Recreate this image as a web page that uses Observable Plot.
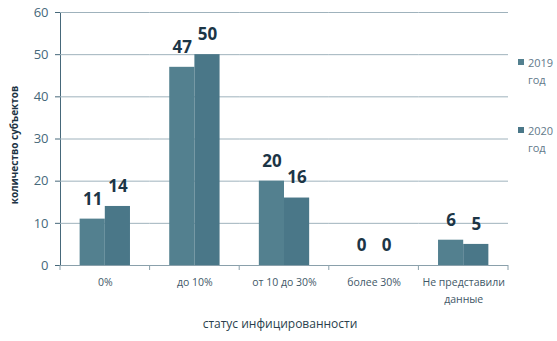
<!DOCTYPE html>
<html><head><meta charset="utf-8">
<script src="https://cdn.jsdelivr.net/npm/d3@7"></script>
<script src="https://cdn.jsdelivr.net/npm/@observablehq/plot@0.6"></script>
<style>
body{margin:0;background:#fff;}
#wrap{position:relative;width:557px;height:341px;overflow:hidden;font-family:"Open Sans",sans-serif;}
.ov{position:absolute;white-space:nowrap;}
</style>
</head><body>
<div id="wrap"></div>
<script>
const categories = ["0%", "до 10%", "от 10 до 30%", "более 30%", "Не представили\nданные"];
const series = ["2019 год", "2020 год"];
const values2019 = [11, 47, 20, 0, 6];
const values2020 = [14, 50, 16, 0, 5];
const yTicks = [0, 10, 20, 30, 40, 50, 60];
const colors = ["#53808f", "#4a7788"];
const yTitle = "количество субъектов";
const xTitle = "статус инфицированности";

const rows = [];
categories.forEach((c, i) => {
  rows.push({category: c, series: series[0], value: values2019[i]});
  rows.push({category: c, series: series[1], value: values2020[i]});
});

const plot = Plot.plot({
  width: 557,
  height: 341,
  marginLeft: 60,
  marginRight: 49,
  marginTop: 12,
  marginBottom: 76,
  style: {fontFamily: "Open Sans, sans-serif", fontSize: "13px", color: "#46687a", background: "#fff"},
  facet: {data: rows, x: "category"},
  fx: {domain: categories, padding: 0, round: false, axis: null, label: null},
  x: {domain: series, paddingInner: 0, paddingOuter: 0.78, round: false, axis: null},
  y: {domain: [0, 60], ticks: yTicks, tickSize: 5, tickPadding: 7, line: true, label: null},
  color: {domain: series, range: colors},
  marks: [
    Plot.ruleY(yTicks.filter(t => t > 0), {stroke: "#9fb2bc", strokeWidth: 1}),
    Plot.barY(rows, {x: "series", y: "value", fill: "series", inset: 0}),
    Plot.ruleY([0], {stroke: "#8aa0ab", strokeWidth: 1}),
    Plot.text(rows, {x: "series", y: "value", text: d => String(d.value), dy: -20,
      fill: "#1c3546", fontWeight: "bold", fontSize: 17}),
    Plot.text(rows, {filter: d => d.series === series[0], text: "category",
      frameAnchor: "bottom", lineAnchor: "top", dy: 9, lineHeight: 1.6,
      fontSize: 10.5, fill: "#3f5868"})
  ]
});

const wrap = document.getElementById("wrap");
wrap.appendChild(plot);

// category boundary ticks drawn from the library's fx and y scales
const svg = plot.tagName.toLowerCase() === "svg" ? plot : plot.querySelector("svg");
try {
  const fx = plot.scale("fx");
  const y = plot.scale("y");
  const y0 = y.apply(0);
  const xs = categories.map(c => fx.apply(c));
  xs.push(fx.apply(categories[categories.length - 1]) + fx.bandwidth);
  d3.select(svg).append("g").selectAll("line").data(xs).join("line")
    .attr("x1", d => d).attr("x2", d => d)
    .attr("y1", y0).attr("y2", y0 + 5)
    .attr("stroke", "#8aa0ab");
} catch (e) {}

// axis titles
const yt = document.createElement("div");
yt.className = "ov";
yt.textContent = yTitle;
Object.assign(yt.style, {left: "14px", top: "145px", fontSize: "10px", fontWeight: "bold",
  color: "#1c3344", transform: "translate(-50%,-50%) rotate(-90deg)", transformOrigin: "center"});
wrap.appendChild(yt);

const xt = document.createElement("div");
xt.className = "ov";
xt.textContent = xTitle;
Object.assign(xt.style, {left: "280px", top: "323px", fontSize: "12px", color: "#2a3f4d",
  transform: "translate(-50%,-50%)"});
wrap.appendChild(xt);

// legend
series.forEach((s, i) => {
  const top = [54, 122][i];
  const sw = document.createElement("div");
  sw.className = "ov";
  Object.assign(sw.style, {left: "518px", top: (top + 5) + "px", width: "6px", height: "6px", background: colors[i]});
  wrap.appendChild(sw);
  const lab = document.createElement("div");
  lab.className = "ov";
  lab.innerHTML = s.replace(" ", "<br>");
  Object.assign(lab.style, {left: "528px", top: top + "px", fontSize: "11px", lineHeight: "17px", color: "#62798a"});
  wrap.appendChild(lab);
});
</script>
</body></html>
